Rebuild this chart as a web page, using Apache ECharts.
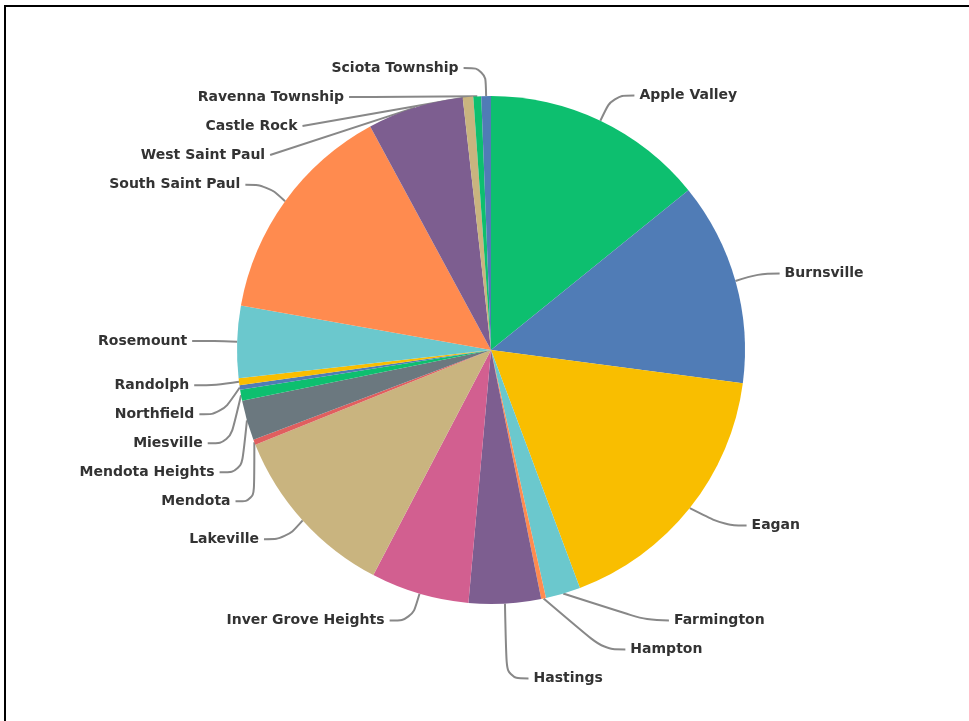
<!DOCTYPE html>
<html>
<head>
<meta charset="utf-8">
<script src="https://cdn.jsdelivr.net/npm/echarts@6/dist/echarts.min.js"></script>
<style>
html,body{margin:0;padding:0;background:#fff;}
#chart{width:969px;height:721px;}
</style>
</head>
<body>
<div id="chart"></div>
<script>
const categories = ["Apple Valley","Burnsville","Eagan","Farmington","Hampton","Hastings","Inver Grove Heights","Lakeville","Mendota","Mendota Heights","Miesville","Northfield","Randolph","Rosemount","South Saint Paul","West Saint Paul","Castle Rock","Ravenna Township","Sciota Township"];
const values = [51,46.5,62,8,1.1,16.5,22.5,40.5,1.2,9.2,2.5,1,1.6,16.5,51.5,22,2.4,1.8,2.2];
const colors = ["#0DBF6F","#507CB6","#F9BE00","#6BC8CD","#FF8B4F","#7D5E90","#D25F90","#C9B47F","#E05F5F","#6B787F","#0DBF6F","#507CB6","#F9BE00","#6BC8CD","#FF8B4F","#7D5E90","#C9B47F","#0DBF6F","#507CB6"];

const chart = echarts.init(document.getElementById('chart'));
chart.setOption({
  animation:false,
  graphic:[{type:'rect',shape:{x:5,y:6,width:1000,height:800},style:{fill:'none',stroke:'#000',lineWidth:2}}],
  series:[{
    type:'pie',
    center:[491,350],
    radius:254,
    startAngle:90,
    clockwise:true,
    avoidLabelOverlap:true,
    data:categories.map((c,i)=>({name:c,value:values[i],itemStyle:{color:colors[i]}})),
    label:{show:true,formatter:'{b}',color:'#333',fontFamily:'DejaVu Sans',fontWeight:'bold',fontSize:14,lineHeight:27},
    labelLine:{show:true,length:28,length2:22,lineStyle:{color:'#888',width:2},smooth:0.4}
  }]
});
</script>
</body>
</html>
